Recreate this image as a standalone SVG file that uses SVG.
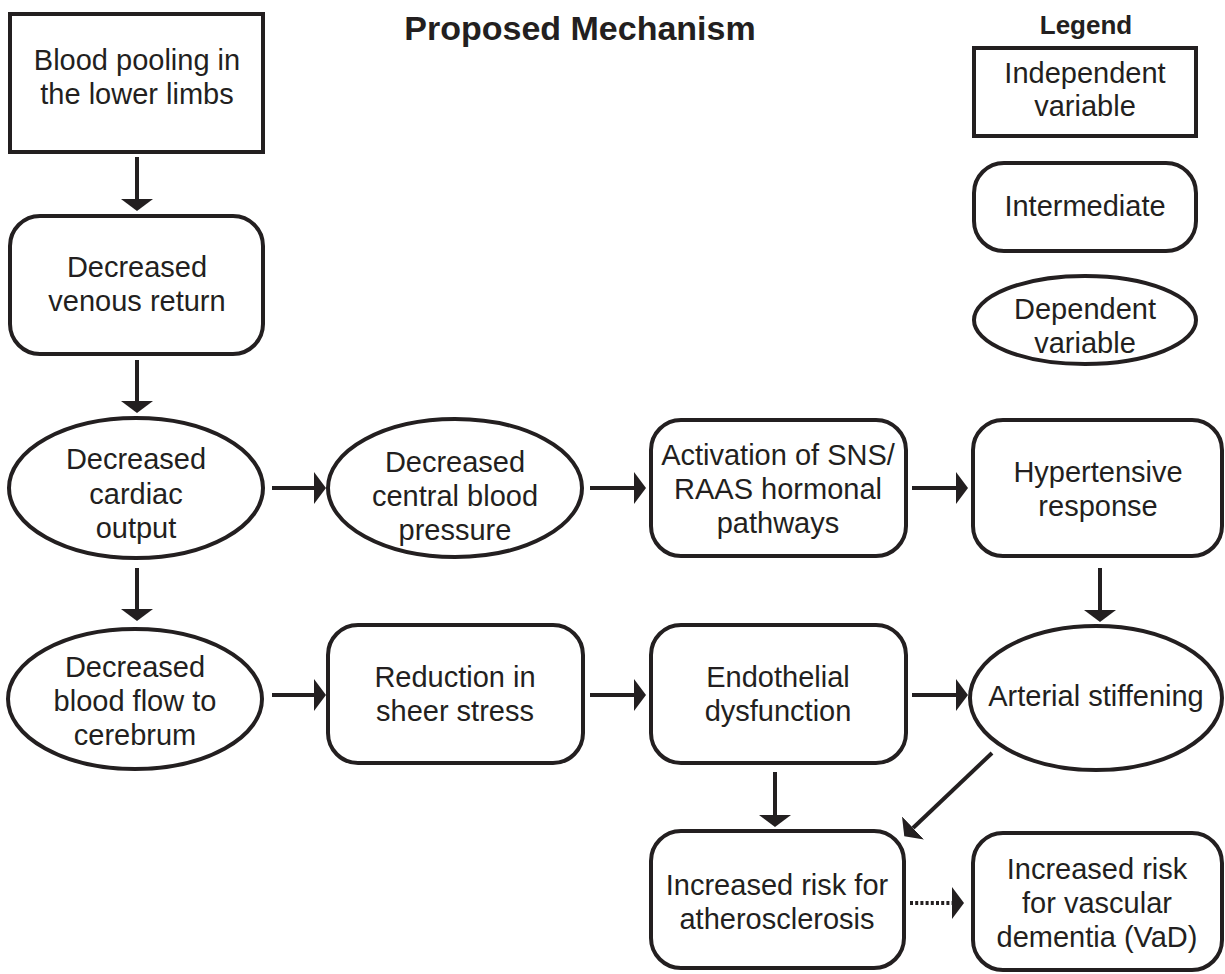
<svg xmlns="http://www.w3.org/2000/svg" width="1225" height="974" viewBox="0 0 1225 974">
<style>
.n{fill:#fff;stroke:#231f20;stroke-width:4}
text{font-family:"Liberation Sans",Arial,sans-serif;font-size:29px;fill:#231f20;text-anchor:middle}
.b{font-weight:bold}
.c{stroke:#231f20;stroke-width:4;fill:none;marker-end:url(#ah)}
.d{stroke-dasharray:3 2.2}
</style>
<defs>
<marker id="ah" markerUnits="userSpaceOnUse" markerWidth="13" markerHeight="32" refX="0" refY="16" orient="auto" viewBox="0 0 13 32">
<path d="M0,0 L12,16 L0,32 z" fill="#231f20"/>
</marker>
</defs>
<rect width="1225" height="974" fill="#fff"/>
<text class="b" x="580" y="40" style="font-size:34px">Proposed Mechanism</text>
<g id="legend">
<text class="b" x="1086" y="34" style="font-size:26px">Legend</text>
<rect class="n" x="974" y="48" width="222" height="88"/>
<text x="1085" y="83">Independent</text>
<text x="1085" y="116">variable</text>
<rect class="n" x="974" y="163" width="222" height="88" rx="30"/>
<text x="1085" y="216">Intermediate</text>
<ellipse class="n" cx="1085" cy="320" rx="111" ry="44"/>
<text x="1085" y="319">Dependent</text>
<text x="1085" y="353">variable</text>
</g>
<g id="connectors">
<line class="c" x1="137" y1="157" x2="137" y2="199"/>
<line class="c" x1="137" y1="360" x2="137" y2="401"/>
<line class="c" x1="137" y1="568" x2="137" y2="609"/>
<line class="c" x1="272" y1="488" x2="314" y2="488"/>
<line class="c" x1="590" y1="488" x2="634" y2="488"/>
<line class="c" x1="912" y1="488" x2="956" y2="488"/>
<line class="c" x1="1100" y1="568" x2="1100" y2="610"/>
<line class="c" x1="272" y1="695" x2="314" y2="695"/>
<line class="c" x1="590" y1="695" x2="634" y2="695"/>
<line class="c" x1="912" y1="695" x2="956" y2="695"/>
<line class="c" x1="775" y1="772" x2="775" y2="815"/>
<line class="c" x1="992" y1="753" x2="913" y2="828"/>
<line class="c d" x1="910" y1="903" x2="952" y2="903"/>
</g>
<g id="n1">
<rect class="n" x="10" y="14" width="253" height="138"/>
<text x="137" y="70">Blood pooling in</text>
<text x="137" y="104">the lower limbs</text>
</g>
<g id="n2">
<rect class="n" x="10" y="216" width="253" height="138" rx="30"/>
<text x="137" y="277">Decreased</text>
<text x="137" y="311">venous return</text>
</g>
<g id="n3">
<ellipse class="n" cx="136" cy="488" rx="127" ry="70"/>
<text x="136" y="469">Decreased</text>
<text x="136" y="504">cardiac</text>
<text x="136" y="538">output</text>
</g>
<g id="n4">
<ellipse class="n" cx="455" cy="488" rx="127" ry="69"/>
<text x="455" y="472">Decreased</text>
<text x="455" y="506">central blood</text>
<text x="455" y="540">pressure</text>
</g>
<g id="n5">
<rect class="n" x="651" y="420" width="255" height="136" rx="30"/>
<text x="778" y="465">Activation of SNS/</text>
<text x="778" y="499">RAAS hormonal</text>
<text x="778" y="533">pathways</text>
</g>
<g id="n6">
<rect class="n" x="973" y="420" width="249" height="136" rx="30"/>
<text x="1098" y="482">Hypertensive</text>
<text x="1098" y="516">response</text>
</g>
<g id="n7">
<ellipse class="n" cx="135" cy="699" rx="127" ry="70"/>
<text x="135" y="677">Decreased</text>
<text x="135" y="711">blood flow to</text>
<text x="135" y="745">cerebrum</text>
</g>
<g id="n8">
<rect class="n" x="328" y="625" width="255" height="138" rx="30"/>
<text x="455" y="687">Reduction in</text>
<text x="455" y="721">sheer stress</text>
</g>
<g id="n9">
<rect class="n" x="651" y="625" width="255" height="138" rx="30"/>
<text x="778" y="687">Endothelial</text>
<text x="778" y="721">dysfunction</text>
</g>
<g id="n10">
<ellipse class="n" cx="1096" cy="698" rx="126" ry="72"/>
<text x="1096" y="706">Arterial stiffening</text>
</g>
<g id="n11">
<rect class="n" x="651" y="831" width="253" height="137" rx="30"/>
<text x="777" y="895">Increased risk for</text>
<text x="777" y="929">atherosclerosis</text>
</g>
<g id="n12">
<rect class="n" x="973" y="833" width="249" height="137" rx="30"/>
<text x="1097" y="879">Increased risk</text>
<text x="1097" y="913">for vascular</text>
<text x="1097" y="947">dementia (VaD)</text>
</g>
</svg>
